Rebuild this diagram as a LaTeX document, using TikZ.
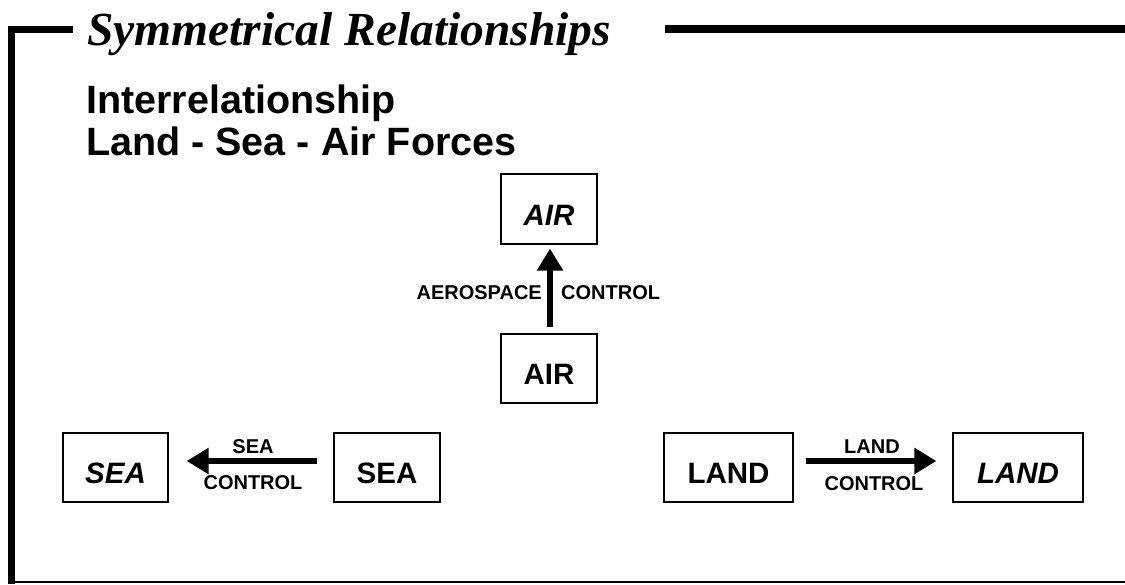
\documentclass[tikz,border=0pt]{standalone}
\usepackage{fontspec}
\setmainfont{Liberation Sans}
\newfontfamily\titlefont{Liberation Serif}
\usetikzlibrary{arrows.meta}
\tikzset{
  frameline/.style={line width=7pt},
  box/.style={draw, line width=1.2pt, inner sep=0pt, minimum height=70pt,
    text height=32pt, text depth=0pt, font=\fontsize{29.5}{31}\selectfont\bfseries},
  ibox/.style={box, font=\fontsize{29.5}{31}\selectfont\bfseries\itshape},
  lbl/.style={inner sep=0pt, font=\fontsize{20}{22}\selectfont\bfseries},
  bigarrow/.style={line width=5.5pt, -{Triangle[length=22pt,width=25pt]}},
}
\begin{document}
\begin{tikzpicture}[x=1pt,y=-1pt]
\useasboundingbox (0,0) rectangle (1125,584);
% frame
\coordinate (f1) at (73,29);
\coordinate (f2) at (11.5,29);
\coordinate (f3) at (11.5,584);
\coordinate (f4) at (665,29);
\coordinate (f5) at (1125,29);
\coordinate (f6) at (11.5,582);
\coordinate (f7) at (1125,582);
\draw[frameline] (f1) -- (f2) -- (f3);
\draw[line width=8pt] (f4) -- (f5);
\draw[line width=2.5pt] (f6) -- (f7);
% titles
\node[anchor=base west, inner sep=0pt, font=\titlefont\fontsize{47.5}{50}\selectfont\bfseries\itshape] (title) at (87,45) {Symmetrical Relationships};
\node[anchor=base west, inner sep=0pt, font=\fontsize{39.5}{42}\selectfont\bfseries] (sub1) at (86,113) {Interrelationship};
\node[anchor=base west, inner sep=0pt, font=\fontsize{39.5}{42}\selectfont\bfseries] (sub2) at (86,155) {Land - Sea - Air Forces};
% boxes
\node[ibox, minimum width=96pt] (airI) at (549,209) {AIR};
\node[box, minimum width=96pt, minimum height=69pt] (air) at (549,368.5) {AIR};
\node[ibox, minimum width=105pt, minimum height=69pt] (seaI) at (115.5,467.5) {SEA};
\node[box, minimum width=106pt, minimum height=69pt] (sea) at (387,467.5) {SEA};
\node[box, minimum width=129pt, minimum height=69pt] (land) at (728.5,467.5) {LAND};
\node[ibox, minimum width=130pt, minimum height=69pt] (landI) at (1018,467.5) {LAND};
% arrows
\draw[bigarrow, shorten <=6pt, shorten >=4pt] ([xshift=1pt]air.north) -- ([xshift=1pt]airI.south);
\draw[bigarrow, shorten <=16pt, shorten >=18pt] ([yshift=6.5pt]sea.west) -- ([yshift=6.5pt]seaI.east);
\draw[bigarrow, shorten <=12pt, shorten >=16pt] ([yshift=6.5pt]land.east) -- ([yshift=6.5pt]landI.west);
% labels
\node[lbl, anchor=base east] (aero) at (542,299) {AEROSPACE};
\node[lbl, anchor=base west] (actl) at (561,299) {CONTROL};
\node[lbl, anchor=base] (sealbl) at (253,453) {SEA};
\node[lbl, anchor=base] (seactl) at (253,489) {CONTROL};
\node[lbl, anchor=base] (landlbl) at (872,453) {LAND};
\node[lbl, anchor=base] (landctl) at (874,490) {CONTROL};
\end{tikzpicture}
\end{document}
